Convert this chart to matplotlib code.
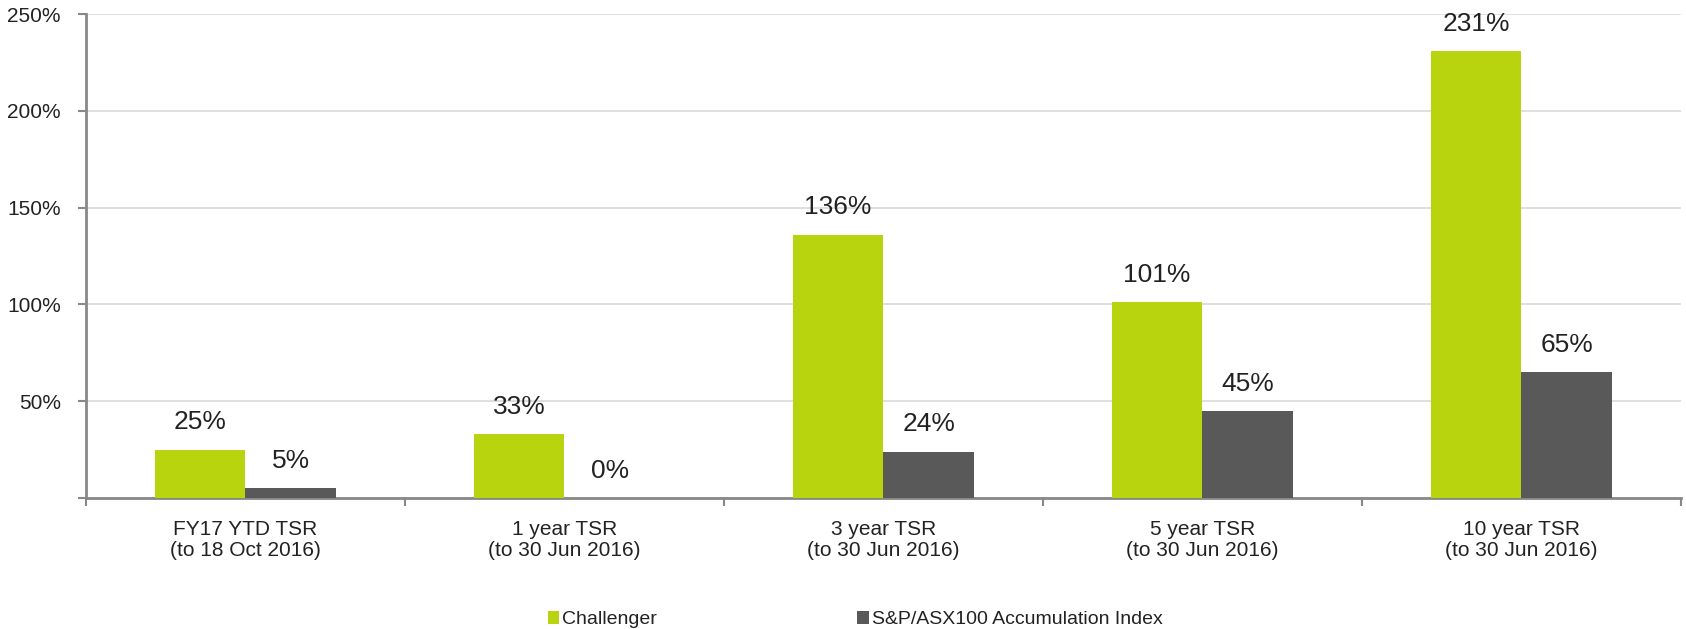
import numpy as np
import matplotlib.pyplot as plt
from matplotlib.ticker import FixedLocator

plt.rcParams['font.family'] = ['Liberation Sans', 'DejaVu Sans']

categories = ['FY17 YTD TSR\n(to 18 Oct 2016)', '1 year TSR\n(to 30 Jun 2016)',
              '3 year TSR\n(to 30 Jun 2016)', '5 year TSR\n(to 30 Jun 2016)',
              '10 year TSR\n(to 30 Jun 2016)']
challenger = [25, 33, 136, 101, 231]
asx100 = [5, 0, 24, 45, 65]
series_names = ['Challenger', 'S&P/ASX100 Accumulation Index']
colors = ['#b8d40e', '#595959']

fig = plt.figure(figsize=(16.86, 6.29), dpi=100)
ax = fig.add_axes([0.051, 0.2083, 0.946, 0.7694])

x = np.arange(len(categories))
w = 0.285
bars = []
for vals, off, c, name in zip([challenger, asx100], [-w / 2, w / 2], colors, series_names):
    b = ax.bar(x + off, vals, w, color=c, label=name, zorder=3)
    bars.append(b)
    for xi, v in zip(x + off, vals):
        ax.annotate(f'{v}%', (xi, v), xytext=(0, 11), textcoords='offset points',
                    ha='center', va='bottom', fontsize=19, color='#222222')

ax.set_xlim(-0.5, len(categories) - 0.5)
ax.set_ylim(0, 250)
ax.set_yticks(np.arange(0, 251, 50))
ax.set_yticklabels([''] + [f'{t}%' for t in range(50, 251, 50)], fontsize=15, color='#222222')
ax.yaxis.grid(True, color='#d9d9d9', linewidth=1.2, zorder=0)
ax.set_axisbelow(True)

# category labels centred, ticks on group boundaries
ax.set_xticks(x)
ax.set_xticklabels(categories, fontsize=15, color='#222222', linespacing=1.15)
ax.tick_params(axis='x', length=0, pad=16)
ax.xaxis.set_minor_locator(FixedLocator(np.arange(-0.5, len(categories), 1)))
ax.tick_params(axis='x', which='minor', length=6, width=1.5, color='#888888')
ax.tick_params(axis='y', length=6, width=1.5, color='#888888', pad=12)

for s in ['top', 'right']:
    ax.spines[s].set_visible(False)
for s in ['left', 'bottom']:
    ax.spines[s].set_color('#888888')
    ax.spines[s].set_linewidth(2)

leg = fig.legend(handles=bars, labels=series_names, loc='lower left',
                 bbox_to_anchor=(0.3144, -0.027), ncol=2, frameon=False,
                 handlelength=0.6, handleheight=0.6, handletextpad=0.15,
                 columnspacing=10.3, prop={'size': 14})
for t in leg.get_texts():
    t.set_color('#222222')

fig.savefig('out.png', dpi=100)
